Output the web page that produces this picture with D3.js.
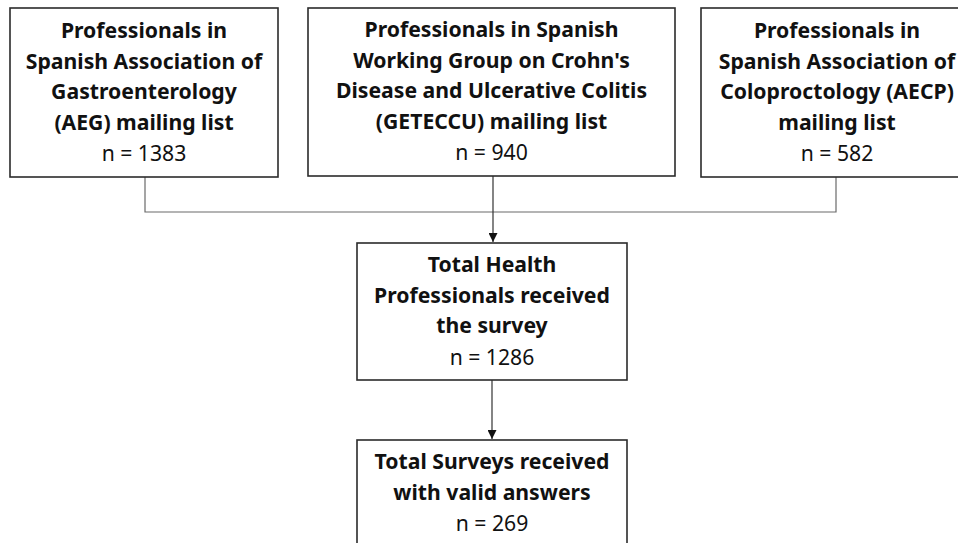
<!DOCTYPE html>
<html>
<head>
<meta charset="utf-8">
<script src="https://cdn.jsdelivr.net/npm/d3@7"></script>
<style>
  body { margin: 0; background: #fff; }
</style>
</head>
<body>
<script>
// Size
var w = 958;
var h = 543;

// Data
var titles = [
  ["Professionals in", "Spanish Association of", "Gastroenterology", "(AEG) mailing list"],
  ["Professionals in Spanish", "Working Group on Crohn's", "Disease and Ulcerative Colitis", "(GETECCU) mailing list"],
  ["Professionals in", "Spanish Association of", "Coloproctology (AECP)", "mailing list"],
  ["Total Health", "Professionals received", "the survey"],
  ["Total Surveys received", "with valid answers"]
];
var counts = [1383, 940, 582, 1286, 269];

// Layout (box rectangles: x0, y0, x1, y1)
var layout = [
  [10, 8, 278, 177],
  [308, 8, 675, 176],
  [701, 8, 973, 177],
  [357, 243, 627, 380],
  [357, 440, 627, 560]
];
var firstBaseline = [38, 37, 38, 272, 469];
var lineGap = 30.5;
var fontFamily = "'Noto Sans', sans-serif";
var fontSize = "21.2px";

var svg = d3.select("body")
            .append("svg")
            .attr("width", w)
            .attr("height", h);

svg.append("defs").append("marker")
   .attr("id", "arrow")
   .attr("viewBox", "0 0 10 10")
   .attr("refX", 10)
   .attr("refY", 5)
   .attr("markerWidth", 9)
   .attr("markerHeight", 9)
   .attr("markerUnits", "userSpaceOnUse")
   .attr("orient", "auto")
   .append("path")
   .attr("d", "M0,0L10,5L0,10Z")
   .attr("fill", "#111");

var cx = function(i) { return (layout[i][0] + layout[i][2]) / 2; };
var joinY = 212;

// Connectors
var links = svg.append("g")
   .attr("fill", "none")
   .attr("stroke", "#6a6a6a")
   .attr("stroke-width", 1.2);

links.append("path")
   .attr("d", "M" + 145 + "," + layout[0][3] + "V" + joinY + "H" + 836 + "V" + layout[2][3]);

links.append("path")
   .attr("stroke", "#333")
   .attr("d", "M" + 493 + "," + layout[1][3] + "V" + (layout[3][1] - 1))
   .attr("marker-end", "url(#arrow)");

links.append("path")
   .attr("stroke", "#333")
   .attr("d", "M" + 492 + "," + layout[3][3] + "V" + (layout[4][1] - 1))
   .attr("marker-end", "url(#arrow)");

// Boxes
var nodes = svg.selectAll("g.node")
   .data(titles)
   .enter()
   .append("g")
   .attr("class", "node");

nodes.append("rect")
   .attr("x", function(d, i) { return layout[i][0]; })
   .attr("y", function(d, i) { return layout[i][1]; })
   .attr("width", function(d, i) { return layout[i][2] - layout[i][0]; })
   .attr("height", function(d, i) { return layout[i][3] - layout[i][1]; })
   .attr("fill", "#fff")
   .attr("stroke", "#2b2b2b")
   .attr("stroke-width", 1.6);

nodes.each(function(d, i) {
  var g = d3.select(this);
  var x = i === 2 ? 837 : cx(i);
  d.forEach(function(line, j) {
    g.append("text")
     .attr("x", x)
     .attr("y", firstBaseline[i] + j * lineGap)
     .attr("text-anchor", "middle")
     .attr("font-family", fontFamily)
     .attr("font-weight", "bold")
     .attr("font-size", fontSize)
     .attr("fill", "#111")
     .text(line);
  });
  g.append("text")
   .attr("x", x)
   .attr("y", firstBaseline[i] + d.length * lineGap + 1)
   .attr("text-anchor", "middle")
   .attr("font-family", fontFamily)
   .attr("font-size", fontSize)
   .attr("fill", "#111")
   .text("n = " + counts[i]);
});
</script>
</body>
</html>
